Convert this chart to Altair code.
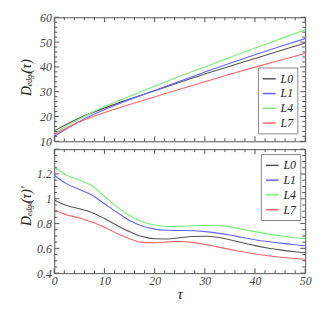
import altair as alt
import pandas as pd

series_names = ["L0", "L1", "L4", "L7"]
series_colors = ["#555555", "#6363ff", "#74ee74", "#ff6464"]

tau_top = [0, 5, 10, 15, 20, 25, 30, 35, 40, 45, 50]
top_L0 = [14.2, 19.4, 23.4, 27.0, 30.4, 33.8, 37.1, 40.3, 43.4, 46.5, 49.6]
top_L1 = [12.0, 18.0, 22.8, 26.8, 30.5, 34.2, 37.9, 41.5, 44.9, 48.2, 51.4]
top_L4 = [13.2, 19.0, 24.0, 28.2, 32.2, 36.2, 40.0, 43.8, 47.6, 51.3, 55.0]
top_L7 = [12.8, 17.8, 21.6, 24.8, 27.9, 31.0, 34.0, 37.0, 39.9, 42.7, 45.4]

tau_bot = [0, 2.5, 5, 7.5, 10, 12.5, 15, 17.5, 20, 22.5, 25, 27.5, 30, 32.5, 35, 37.5, 40, 42.5, 45, 47.5, 50]
bot_L0 = [0.99, 0.945, 0.92, 0.89, 0.84, 0.785, 0.735, 0.695, 0.677, 0.676, 0.685, 0.695, 0.698, 0.69, 0.67, 0.645, 0.622, 0.603, 0.588, 0.575, 0.565]
bot_L1 = [1.19, 1.12, 1.075, 1.03, 0.96, 0.89, 0.825, 0.78, 0.755, 0.746, 0.744, 0.742, 0.735, 0.723, 0.708, 0.688, 0.670, 0.655, 0.642, 0.631, 0.621]
bot_L4 = [1.256, 1.19, 1.15, 1.105, 1.02, 0.935, 0.865, 0.815, 0.788, 0.776, 0.777, 0.782, 0.785, 0.782, 0.773, 0.753, 0.735, 0.717, 0.701, 0.688, 0.677]
bot_L7 = [0.91, 0.87, 0.845, 0.812, 0.77, 0.72, 0.678, 0.648, 0.645, 0.652, 0.655, 0.648, 0.632, 0.612, 0.592, 0.572, 0.555, 0.54, 0.528, 0.52, 0.512]

x_major = [0, 10, 20, 30, 40, 50]
x_minor = [v for v in range(0, 51, 2) if v % 10 != 0]
top_y_major = [10, 20, 30, 40, 50, 60]
top_y_minor = [v for v in range(10, 61, 2) if v % 10 != 0]
bot_y_major = [0.4, 0.6, 0.8, 1.0, 1.2, 1.4]
bot_y_minor = [round(0.4 + 0.05 * i, 2) for i in range(21) if i % 4 != 0]

FONT = "Liberation Serif"
TICK = "#555555"
W = 255
H = 126


def long_df(tau, cols):
    rows = []
    for name, vals in zip(series_names, cols):
        for t, v in zip(tau, vals):
            rows.append({"tau": t, "value": v, "series": name})
    return pd.DataFrame(rows)


def label_axis(orient, values, labels, label_expr=None, title_pad=None):
    kw = dict(orient=orient, values=values, ticks=False, domain=False, grid=False,
              labels=labels)
    if labels:
        kw.update(labelFont=FONT, labelFontStyle="italic", labelFontSize=12,
                  labelColor="#444444", labelFlush=False, labelPadding=3)
        if label_expr:
            kw["labelExpr"] = label_expr
    if title_pad is not None:
        kw.update(titleFont=FONT, titleFontStyle="italic", titleFontSize=15,
                  titleFontWeight="normal", titleColor="#222222", titlePadding=title_pad)
    return alt.Axis(**kw)


def panel(df, ydom, ymaj, ymin, show_x, legend_orient, legend_offset, title_parts, title_y, ylabel_expr):
    xs = alt.Scale(domain=[0, 50], nice=False)
    ys = alt.Scale(domain=ydom, nice=False, zero=False)
    xtitle = "τ" if show_x else ""
    xax = label_axis("bottom", x_major, show_x, title_pad=0 if show_x else None)
    yax = label_axis("left", ymaj, True, label_expr=ylabel_expr)

    def X():
        return alt.X("tau:Q", scale=xs, title=xtitle, axis=xax)

    def Y():
        return alt.Y("value:Q", scale=ys, title="", axis=yax)

    main = alt.Chart(df).mark_line(strokeWidth=1.1, interpolate="monotone").encode(
        x=X(), y=Y(),
        color=alt.Color("series:N", scale=alt.Scale(domain=series_names, range=series_colors),
                        legend=alt.Legend(orient=legend_orient, offset=legend_offset, title=None,
                                          symbolType="stroke", symbolSize=170, symbolStrokeWidth=1.5,
                                          labelFont=FONT, labelFontStyle="italic", labelFontSize=12,
                                          labelColor="#222222", strokeColor="#888888",
                                          fillColor="white", padding=4, rowPadding=1,
                                          labelOffset=4, zindex=2)),
    )
    layers = [main]
    for vals, size in ((x_major, 5), (x_minor, 3)):
        d = pd.DataFrame({"tau": vals})
        for y0, y1 in ((H - size, H), (0, size)):
            layers.append(alt.Chart(d).mark_rule(color=TICK, strokeWidth=1).encode(
                x=X(), y=alt.value(y0), y2=alt.value(y1)))
    for vals, size in ((ymaj, 5), (ymin, 3)):
        d = pd.DataFrame({"value": vals})
        for x0, x1 in ((0, size), (W - size, W)):
            layers.append(alt.Chart(d).mark_rule(color=TICK, strokeWidth=1).encode(
                y=Y(), x=alt.value(x0), x2=alt.value(x1)))
    one = pd.DataFrame({"k": [0]})
    y = title_y
    for txt, size, dx, w in title_parts:
        layers.append(alt.Chart(one).mark_text(
            text=txt, angle=270, font=FONT, fontStyle="italic", fontSize=size,
            align="left", baseline="middle", color="#222222"
        ).encode(x=alt.value(dx), y=alt.value(y)))
        y -= w
    return alt.layer(*layers)


top_df = long_df(tau_top, [top_L0, top_L1, top_L4, top_L7])
bot_df = long_df(tau_bot, [bot_L0, bot_L1, bot_L4, bot_L7])

top = panel(top_df, [10, 60], top_y_major, top_y_minor, False, "bottom-right", 8,
            [("D", 14, -28, 10), ("edge", 8, -25, 13), ("(τ)", 14, -28, 12)], 80,
            "format(datum.value, 'd')").properties(width=W, height=H)
bot = panel(bot_df, [0.4, 1.4], bot_y_major, bot_y_minor, True, "top-right", 5,
            [("D", 14, -28, 10), ("edge", 8, -25, 13), ("(τ)'", 14, -28, 14)], 78,
            "datum.value > 1.3 ? '' : format(datum.value, '~g')").properties(width=W, height=H)

chart = alt.vconcat(top, bot, spacing=0).resolve_legend(color="independent").properties(
    padding={"left": 11, "top": 0, "right": 5, "bottom": 5},
).configure_view(stroke="#555555", strokeWidth=1)

chart.save("out.html", embed_options={"renderer": "svg", "actions": False})
